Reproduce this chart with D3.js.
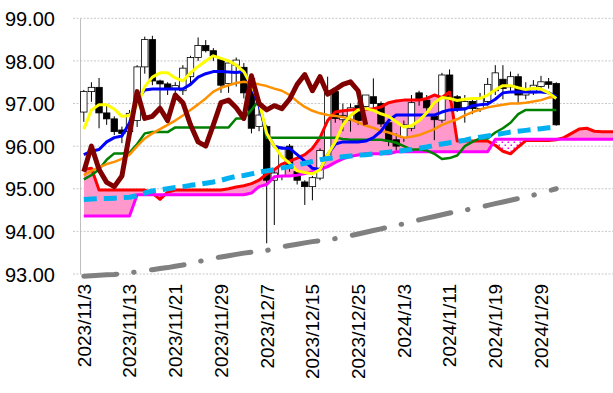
<!DOCTYPE html>
<html><head><meta charset="utf-8">
<script src="https://cdnjs.cloudflare.com/ajax/libs/d3/7.8.5/d3.min.js"></script>
<style>body{margin:0;background:#fff}svg{display:block}text{font-family:"Liberation Sans",Arial,sans-serif;fill:#000}</style>
</head><body><svg id="c" width="613" height="393"></svg>
<script>
const dates = ["2023/11/3","2023/11/6","2023/11/7","2023/11/8","2023/11/9","2023/11/10","2023/11/13","2023/11/14","2023/11/15","2023/11/16","2023/11/17","2023/11/20","2023/11/21","2023/11/22","2023/11/23","2023/11/24","2023/11/27","2023/11/28","2023/11/29","2023/11/30","2023/12/1","2023/12/4","2023/12/5","2023/12/6","2023/12/7","2023/12/8","2023/12/11","2023/12/12","2023/12/13","2023/12/14","2023/12/15","2023/12/18","2023/12/19","2023/12/20","2023/12/21","2023/12/22","2023/12/25","2023/12/26","2023/12/27","2023/12/28","2023/12/29","2024/1/2","2024/1/3","2024/1/4","2024/1/5","2024/1/8","2024/1/9","2024/1/10","2024/1/11","2024/1/12","2024/1/15","2024/1/16","2024/1/17","2024/1/18","2024/1/19","2024/1/22","2024/1/23","2024/1/24","2024/1/25","2024/1/26","2024/1/29","2024/1/30","2024/1/31"];
const yTicks = [93, 94, 95, 96, 97, 98, 99];

const open  = [96.80,97.28,97.38,96.78,96.64,96.38,96.34,96.60,97.86,98.50,97.53,97.46,97.36,97.30,97.63,98.08,98.36,98.24,98.04,97.47,97.90,97.85,97.59,96.46,96.46,95.20,95.30,96.00,95.40,95.16,95.05,95.25,95.75,97.28,96.62,96.60,96.95,96.93,97.16,97.00,96.55,96.15,96.20,96.42,97.25,97.08,96.70,96.61,97.67,97.16,96.90,97.05,96.88,97.05,97.30,97.57,97.39,97.63,97.20,97.25,97.40,97.51,97.47];
const high  = [97.32,97.50,97.60,96.96,96.70,96.46,96.85,97.90,98.57,98.59,97.56,97.50,97.50,97.90,98.12,98.55,98.49,98.30,98.08,97.98,98.08,97.95,97.65,97.00,96.50,95.45,96.00,96.05,95.45,95.20,95.30,95.95,97.63,97.32,97.00,97.00,97.05,97.20,97.59,97.05,96.60,96.30,96.60,97.20,97.30,97.20,96.75,97.72,97.80,97.20,97.20,97.15,97.25,97.60,97.90,97.90,97.75,97.70,97.50,97.55,97.65,97.60,97.50];
const low   = [96.57,97.04,96.42,96.50,96.26,96.07,96.25,96.45,97.70,97.43,96.81,97.20,97.20,97.20,97.47,98.00,98.20,98.00,97.25,97.25,97.40,97.12,96.30,96.35,93.72,94.15,95.20,95.40,95.10,94.62,94.73,95.20,95.70,96.55,96.35,96.34,96.50,96.85,96.80,96.45,96.00,95.90,96.10,96.35,96.95,96.70,96.14,96.55,97.05,96.80,96.55,96.75,96.80,96.95,97.20,97.10,97.30,97.00,97.10,97.20,97.30,97.35,96.48];
const close = [97.28,97.38,96.78,96.64,96.34,96.30,96.77,97.86,98.50,97.53,97.46,97.36,97.42,97.83,98.08,98.36,98.24,98.12,97.43,97.95,98.02,97.25,96.42,96.73,95.20,95.37,95.95,95.48,95.20,95.05,95.26,95.90,97.25,96.65,96.72,96.90,96.60,97.20,97.00,96.52,96.12,96.00,96.50,97.02,97.08,96.90,96.62,97.67,97.10,96.89,97.05,96.88,97.12,97.45,97.72,97.35,97.63,97.20,97.30,97.43,97.51,97.45,96.50];

const yellowLine = [96.4,96.85,96.97,96.97,96.87,96.7,96.72,96.95,97.4,97.62,97.72,97.72,97.6,97.53,97.72,97.87,98.0,98.12,98.06,98.0,97.9,97.75,97.42,97.05,96.3,96.0,95.75,95.6,95.42,95.38,95.35,95.45,95.8,96.1,96.5,96.72,96.85,96.88,96.84,96.76,96.7,96.57,96.45,96.48,96.6,96.78,97.02,97.14,97.12,97.07,97.1,97.12,97.12,97.2,97.32,97.42,97.42,97.37,97.33,97.36,97.34,97.25,97.12];
const blueLine = [95.8,95.88,95.92,96.1,96.2,96.24,96.55,97.1,97.32,97.34,97.34,97.34,97.34,97.34,97.45,97.62,97.7,97.75,97.75,97.74,97.73,97.75,97.4,96.95,96.3,96.0,95.95,95.95,95.8,95.65,95.48,95.45,95.8,96.05,96.1,96.1,96.1,96.12,96.2,96.35,96.6,96.73,96.73,96.73,96.73,96.73,96.73,96.8,96.85,96.86,96.87,96.95,96.97,96.99,97.1,97.25,97.27,97.27,97.27,97.27,97.27,97.25,97.16];
const greenLine = [95.22,95.32,95.45,95.68,95.83,95.83,95.85,96.05,96.3,96.33,96.33,96.33,96.44,96.44,96.44,96.44,96.44,96.44,96.44,96.44,96.65,96.65,96.85,97.08,96.2,96.2,96.2,96.2,96.2,96.2,96.2,96.2,96.2,96.2,96.17,96.15,96.15,96.15,96.15,96.15,96.12,96.08,96.0,95.92,95.92,95.9,95.82,95.7,95.72,95.78,96.0,96.1,96.18,96.18,96.32,96.42,96.55,96.75,96.85,96.85,96.85,96.85,96.85];
const orangeLine = [95.32,95.42,95.5,95.58,95.63,95.7,95.8,96.0,96.18,96.3,96.4,96.5,96.6,96.72,96.85,96.98,97.12,97.28,97.37,97.43,97.48,97.51,97.48,97.45,97.41,97.35,97.3,97.2,97.05,96.92,96.83,96.77,96.73,96.71,96.68,96.63,96.56,96.48,96.43,96.36,96.32,96.26,96.2,96.22,96.26,96.33,96.4,96.5,96.57,96.63,96.72,96.8,96.86,96.91,96.94,96.97,97.0,97.0,97.02,97.05,97.08,97.14,97.16];
const laggingLine = [95.4,96.0,95.45,95.15,95.05,95.3,96.3,97.28,96.65,96.7,96.89,96.6,97.2,97.02,96.5,96.1,96.0,96.5,97.02,97.08,96.9,96.65,97.65,97.0,96.85,96.95,96.88,97.1,97.45,97.68,97.3,97.63,97.22,97.33,97.45,97.51,97.3,96.5];
const spanA = [95.45,95.48,94.97,94.97,94.97,94.97,94.97,94.97,94.97,94.9,94.75,94.92,94.97,94.97,94.97,94.97,94.97,94.97,94.97,95.0,95.04,95.07,95.12,95.2,95.35,95.45,95.58,95.65,95.72,95.8,95.95,96.2,96.6,96.8,96.83,96.85,96.86,96.86,96.88,96.92,97.02,97.06,97.08,97.08,97.08,97.12,97.2,97.14,97.27,96.12,96.12,96.12,96.12,96.12,96.02,95.88,95.82,95.98,96.13,96.13,96.13,96.13,96.15,96.2,96.3,96.4,96.42,96.35,96.34,96.34,96.34];
const spanB = [94.36,94.36,94.36,94.36,94.36,94.36,94.36,94.86,94.86,94.86,94.86,94.86,94.86,94.86,94.86,94.86,94.86,94.86,94.86,94.86,94.86,94.86,94.9,95.05,95.1,95.28,95.3,95.3,95.32,95.36,95.4,95.45,95.52,95.62,95.7,95.76,95.79,95.82,95.82,95.82,95.82,95.87,95.87,95.87,95.87,95.87,95.87,95.87,95.87,95.87,95.87,95.87,95.87,95.87,96.16,96.16,96.16,96.16,96.16,96.16,96.16,96.16,96.16,96.16,96.16,96.16,96.16,96.16,96.16,96.16,96.16];
const cyanLine = [94.75,94.76,94.77,94.77,94.78,94.79,94.8,94.84,94.9,94.95,94.97,95.0,95.03,95.05,95.08,95.1,95.13,95.16,95.2,95.25,95.29,95.31,95.35,95.39,95.42,95.45,95.49,95.52,95.56,95.6,95.64,95.68,95.71,95.73,95.75,95.77,95.79,95.8,95.82,95.84,95.86,95.88,95.9,95.92,95.95,95.98,96.02,96.05,96.08,96.11,96.14,96.18,96.21,96.24,96.27,96.3,96.33,96.35,96.37,96.39,96.41,96.43,96.44];
const grayLine = [92.95,92.96,92.97,92.98,92.99,93.01,93.03,93.05,93.08,93.1,93.13,93.15,93.18,93.21,93.25,93.29,93.33,93.37,93.4,93.43,93.46,93.49,93.51,93.53,93.55,93.6,93.64,93.67,93.7,93.73,93.76,93.78,93.8,93.83,93.87,93.9,93.94,93.98,94.02,94.06,94.1,94.14,94.18,94.22,94.27,94.31,94.35,94.39,94.43,94.47,94.5,94.53,94.57,94.61,94.65,94.69,94.73,94.77,94.81,94.85,94.9,94.95,95.0];

const svg = d3.select("#c");
const nCat = 90;
const x = d3.scaleBand().domain(d3.range(nCat)).range([80, 80 + nCat * 7.62]).padding(0);
const cx = i => x(i) + x.bandwidth() / 2;
const y = d3.scaleLinear().domain([93, 99]).range([274, 18.3]);

// gridlines
svg.append("g").selectAll("line").data(yTicks).join("line")
  .attr("x1", 73).attr("x2", 613).attr("y1", d => y(d)).attr("y2", d => y(d))
  .attr("stroke", "#c8c8c8").attr("stroke-width", 1).attr("stroke-dasharray", "2,1.5");

// y axis
const ya = svg.append("g").attr("transform", "translate(80,0)")
  .call(d3.axisLeft(y).tickValues(yTicks).tickFormat(d3.format(".2f")).tickSize(0).tickPadding(25));
ya.select(".domain").attr("stroke", "#bfbfbf");
ya.selectAll("text").style("font-size", "20px").attr("dy", "0.36em");

// x axis labels
const labelIdx = d3.range(0, dates.length).filter(i => i % 6 === 0);
const xa = svg.append("g").attr("transform", "translate(0,274)")
  .call(d3.axisBottom(x).tickValues(labelIdx).tickFormat(i => dates[i]).tickSize(0));
xa.select(".domain").remove();
xa.selectAll("text").style("font-size", "19px")
  .attr("transform", "rotate(-90)").attr("text-anchor", "end")
  .attr("x", -10).attr("y", 0).attr("dy", "0.36em");

// defs
const defs = svg.append("defs");
const pat = defs.append("pattern").attr("id", "dots").attr("width", 6).attr("height", 6).attr("patternUnits", "userSpaceOnUse");
pat.append("rect").attr("width", 6).attr("height", 6).attr("fill", "#fff");
pat.append("rect").attr("x", 0.5).attr("y", 0.5).attr("width", 1.5).attr("height", 1.5).attr("fill", "#ff00ff");
pat.append("rect").attr("x", 3.5).attr("y", 3.5).attr("width", 1.5).attr("height", 1.5).attr("fill", "#ff00ff");

const idxCloud = d3.range(spanA.length);
defs.append("clipPath").attr("id", "belowA").append("path")
  .attr("d", d3.area().x(cx).y0(400).y1(i => y(spanA[i]))(idxCloud));
defs.append("clipPath").attr("id", "aboveA").append("path")
  .attr("d", d3.area().x(cx).y0(0).y1(i => y(spanA[i]))(idxCloud));
defs.append("clipPath").attr("id", "plot").append("rect").attr("x", 80).attr("y", 0).attr("width", 533).attr("height", 393);

const cloud = d3.area().x(cx).y0(i => y(spanB[i])).y1(i => y(spanA[i]));
const gp = svg.append("g").attr("clip-path", "url(#plot)");
gp.append("g").attr("clip-path", "url(#belowA)").append("path").attr("d", cloud(idxCloud)).attr("fill", "#ff99cc");
gp.append("g").attr("clip-path", "url(#aboveA)").append("path").attr("d", cloud(idxCloud)).attr("fill", "url(#dots)");

// candles
const ci = d3.range(close.length);
const bw = x.bandwidth() * 0.85;
const cg = gp.append("g");
cg.selectAll("line").data(ci).join("line")
  .attr("x1", cx).attr("x2", cx).attr("y1", i => y(high[i])).attr("y2", i => y(low[i]))
  .attr("stroke", "#000").attr("stroke-width", 1);
cg.selectAll("rect").data(ci).join("rect")
  .attr("x", i => cx(i) - bw / 2).attr("width", bw)
  .attr("y", i => y(Math.max(open[i], close[i])))
  .attr("height", i => Math.max(1, Math.abs(y(open[i]) - y(close[i]))))
  .attr("fill", i => close[i] >= open[i] ? "#fff" : "#000")
  .attr("stroke", "#000").attr("stroke-width", 0.8);

function drawLine(data, color, width, dash, cap) {
  const ln = d3.line().x((d, i) => cx(i)).y(d => y(d));
  const p = gp.append("path").attr("d", ln(data)).attr("fill", "none")
    .attr("stroke", color).attr("stroke-width", width)
    .attr("stroke-linejoin", "round").attr("stroke-linecap", cap || "butt");
  if (dash) p.attr("stroke-dasharray", dash);
}
drawLine(grayLine, "#808080", 5, "33,17,0.5,17.5", "round");
drawLine(spanA, "#ff0000", 3);
drawLine(spanB, "#ff00ff", 3);
drawLine(greenLine, "#008000", 2.5);
drawLine(orangeLine, "#ff9000", 2.5);
drawLine(blueLine, "#0000ff", 3);
drawLine(yellowLine, "#ffff00", 3);
drawLine(laggingLine, "#800000", 5);
drawLine(cyanLine, "#00b0f0", 5, "13,7");
</script></body></html>
